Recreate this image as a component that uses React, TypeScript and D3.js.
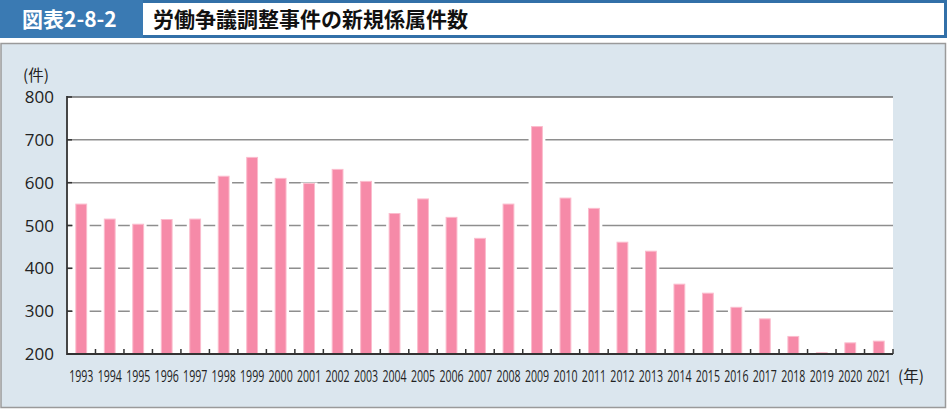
import { useEffect, useRef } from "react";
import * as d3 from "d3";

const years = [
  "1993", "1994", "1995", "1996", "1997", "1998", "1999", "2000", "2001", "2002",
  "2003", "2004", "2005", "2006", "2007", "2008", "2009", "2010", "2011", "2012",
  "2013", "2014", "2015", "2016", "2017", "2018", "2019", "2020", "2021",
];
const cases = [
  550, 515, 503, 514, 515, 615, 659, 610, 598, 631,
  603, 528, 562, 519, 470, 550, 731, 564, 540, 461,
  440, 363, 342, 309, 282, 241, 203, 226, 230,
];
const yTicks = [200, 300, 400, 500, 600, 700, 800];

const W = 947;
const H = 409;
const PLOT = { left: 67, right: 893, top: 97, bottom: 354 };
const JP = "'Noto Sans CJK JP', 'Noto Sans', sans-serif";
const NUM = "'Open Sans', 'Noto Sans', sans-serif";

export default function App() {
  const svgRef = useRef<SVGSVGElement>(null);

  useEffect(() => {
    const svg = d3.select(svgRef.current);
    svg.selectAll("*").remove();
    svg.attr("width", W).attr("height", H).attr("viewBox", `0 0 ${W} ${H}`);

    svg.append("rect").attr("width", W).attr("height", H).attr("fill", "#ffffff");

    // Header
    svg.append("rect")
      .attr("x", 1.5).attr("y", 1.5).attr("width", W - 3).attr("height", 35)
      .attr("fill", "#ffffff").attr("stroke", "#3270a8").attr("stroke-width", 3);
    svg.append("rect")
      .attr("x", 0).attr("y", 0).attr("width", 143).attr("height", 38)
      .attr("fill", "#3a7ab3");
    svg.append("text")
      .attr("x", 22).attr("y", 27)
      .attr("font-family", JP).attr("font-weight", "bold").attr("font-size", 21)
      .attr("fill", "#ffffff")
      .text("図表2-8-2");
    svg.append("text")
      .attr("x", 153).attr("y", 27)
      .attr("font-family", JP).attr("font-weight", "bold").attr("font-size", 21)
      .attr("fill", "#111111")
      .text("労働争議調整事件の新規係属件数");

    // Panel
    svg.append("rect")
      .attr("x", 1).attr("y", 43.5).attr("width", W - 2.5).attr("height", H - 45)
      .attr("fill", "#dbe6ee").attr("stroke", "#9a9a9a").attr("stroke-width", 1.5);

    const x = d3.scaleBand<string>()
      .domain(years)
      .range([PLOT.left, PLOT.right])
      .padding(0);
    const y = d3.scaleLinear().domain([200, 800]).range([PLOT.bottom, PLOT.top]);

    svg.append("rect")
      .attr("x", PLOT.left).attr("y", PLOT.top)
      .attr("width", PLOT.right - PLOT.left).attr("height", PLOT.bottom - PLOT.top)
      .attr("fill", "#ffffff");

    // Grid lines
    yTicks.filter((t) => t > 200).forEach((t) => {
      svg.append("line")
        .attr("x1", PLOT.left).attr("x2", PLOT.right)
        .attr("y1", y(t)).attr("y2", y(t))
        .attr("stroke", t === 800 ? "#6e6e6e" : "#8e8e8e")
        .attr("stroke-width", 1.5);
    });

    // Bars with white halo
    const barW = x.bandwidth() * 0.38;
    const g = svg.append("g");
    years.forEach((yr, i) => {
      const cx = (x(yr) ?? 0) + x.bandwidth() / 2;
      const top = y(cases[i]);
      g.append("rect")
        .attr("x", cx - barW / 2 - 3).attr("y", top - 1)
        .attr("width", barW + 6).attr("height", PLOT.bottom - top + 1)
        .attr("fill", "#ffffff");
      g.append("rect")
        .attr("x", cx - barW / 2).attr("y", top)
        .attr("width", barW).attr("height", PLOT.bottom - top)
        .attr("fill", "#f68aa8")
        .attr("stroke", "#fbbccd").attr("stroke-width", 1);
    });

    // Axes
    svg.append("line")
      .attr("x1", PLOT.left).attr("x2", PLOT.left)
      .attr("y1", PLOT.top - 1).attr("y2", PLOT.bottom + 1)
      .attr("stroke", "#333333").attr("stroke-width", 1.8);
    svg.append("line")
      .attr("x1", PLOT.left).attr("x2", PLOT.right)
      .attr("y1", PLOT.bottom).attr("y2", PLOT.bottom)
      .attr("stroke", "#333333").attr("stroke-width", 1.8);

    yTicks.forEach((t) => {
      svg.append("line")
        .attr("x1", PLOT.left).attr("x2", PLOT.left + 5)
        .attr("y1", y(t)).attr("y2", y(t))
        .attr("stroke", "#333333").attr("stroke-width", 1.5);
      svg.append("text")
        .attr("x", 54).attr("y", y(t) + 6)
        .attr("text-anchor", "end")
        .attr("font-family", NUM).attr("font-size", 17)
        .attr("fill", "#222222")
        .text(String(t));
    });

    const boundaries = years.map((yr) => x(yr) ?? 0).slice(1).concat([PLOT.right]);
    boundaries.forEach((bx) => {
      svg.append("line")
        .attr("x1", bx).attr("x2", bx)
        .attr("y1", PLOT.bottom).attr("y2", PLOT.bottom - 5)
        .attr("stroke", "#333333").attr("stroke-width", 1.5);
    });

    // Condensed year labels
    years.forEach((yr) => {
      const cx = (x(yr) ?? 0) + x.bandwidth() / 2;
      svg.append("text")
        .attr("transform", `translate(${cx},382) scale(0.64,1)`)
        .attr("text-anchor", "middle")
        .attr("font-family", NUM).attr("font-size", 16.5)
        .attr("fill", "#222222")
        .text(yr);
    });

    svg.append("text")
      .attr("x", 23).attr("y", 81)
      .attr("font-family", JP).attr("font-size", 15.5)
      .attr("fill", "#222222")
      .text("(件)");
    svg.append("text")
      .attr("x", 898).attr("y", 382)
      .attr("font-family", JP).attr("font-size", 15.5)
      .attr("fill", "#222222")
      .text("(年)");
  }, []);

  return <svg ref={svgRef} style={{ position: "absolute", left: 0, top: 0 }} />;
}
